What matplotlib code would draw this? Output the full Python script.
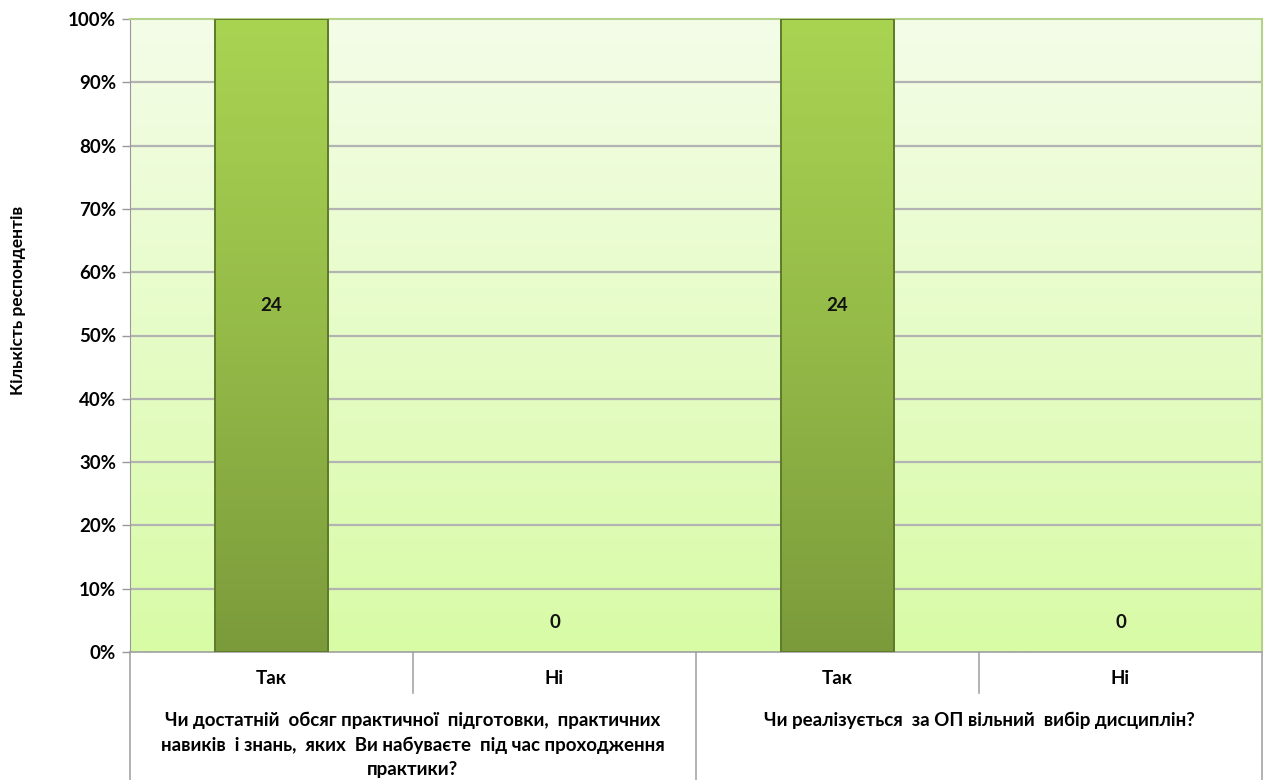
import numpy as np
import matplotlib
matplotlib.use("Agg")
import matplotlib.pyplot as plt
from matplotlib.colors import LinearSegmentedColormap

plt.rcParams['font.family'] = ['Lato', 'DejaVu Sans']

# ---- data ----
answers = ["Так", "Ні", "Так", "Ні"]
counts = [24, 0, 24, 0]
questions = ["Чи достатній  обсяг практичної  підготовки,  практичних\nнавиків  і знань,  яких  Ви набуваєте  під час проходження\nпрактики?",
             "Чи реалізується  за ОП вільний  вибір дисциплін?"]
y_label = "Кількість респондентів"
yticks = list(range(0, 101, 10))

# 100% stacked (single series): share of category total
pct = [100.0 * c / c if c > 0 else 0.0 for c in counts]

FS = 13.5

fig = plt.figure(figsize=(12.64, 7.8), dpi=100)
ax = fig.add_axes([130/1264, 1-652/780, (1262-130)/1264, (652-19)/780])

n = len(answers)
x = np.arange(n)
ax.set_xlim(-0.5, n - 0.5)
ax.set_ylim(0, 100)

# background gradient
bg = LinearSegmentedColormap.from_list("bg", ["#d8fba6", "#f4fde8"])
grad = np.linspace(0, 1, 256).reshape(-1, 1)
ax.imshow(grad, cmap=bg, aspect='auto', extent=(-0.5, n - 0.5, 0, 100),
          origin='lower', zorder=0)

# grid
for t in yticks[1:-1]:
    ax.axhline(t, color="#b3b3b3", lw=1.6, zorder=1)

# bars with gradient fill
barcm = LinearSegmentedColormap.from_list("bar", ["#7b9b3b", "#95ba48", "#a9d452"])
bars = ax.bar(x, pct, width=0.4, facecolor="none", edgecolor="#5e7a2a",
              lw=1.4, zorder=3)
for b in bars:
    h = b.get_height()
    if h <= 0:
        b.set_visible(False)
        continue
    im = ax.imshow(grad, cmap=barcm, aspect='auto',
                   extent=(b.get_x(), b.get_x() + b.get_width(), 0, h),
                   origin='lower', zorder=2)
    im.set_clip_path(b)

# value labels
for xi, c, p in zip(x, counts, pct):
    yy = 54.8 if p > 0 else 4.6
    ax.text(xi, yy, str(c), ha='center', va='center', fontsize=FS,
            fontweight='bold', color='#111111', zorder=4)

# axes styling
ax.set_xticks([])
ax.set_yticks(yticks)
ax.set_yticklabels([f"{t}%" for t in yticks], fontsize=FS, fontweight='bold')
ax.tick_params(axis='y', length=6, width=1, color="#999999", pad=4)
for s in ['top', 'right']:
    ax.spines[s].set_color("#b5d18a")
    ax.spines[s].set_linewidth(1.5)
ax.spines['left'].set_color("#999999")
ax.spines['bottom'].set_color("#a0a0a0")
ax.spines['bottom'].set_linewidth(1.2)
fig.text(18 / 1264, 1 - 300 / 780, y_label, rotation=90, ha='center',
         va='center', fontsize=FS - 1, fontweight='bold')

# multi-level category axis
tr = ax.get_xaxis_transform()
sep_kw = dict(color="#a6a6a6", lw=1.2, clip_on=False, transform=tr)
lvl1 = -41 / 633
full = -128 / 633
for i in range(n + 1):
    xb = i - 0.5
    bottom = full if i % 2 == 0 else lvl1
    ax.plot([xb, xb], [0, bottom], **sep_kw)
for xi, a in zip(x, answers):
    ax.text(xi, -27 / 633, a, transform=tr, ha='center', va='center',
            fontsize=FS, fontweight='bold', clip_on=False)
for gi, q in enumerate(questions):
    xc = 2 * gi + 0.5
    ax.text(xc, -60 / 633, q, transform=tr, ha='center', va='top',
            fontsize=FS, fontweight='bold', linespacing=1.5, clip_on=False)

fig.savefig("out.png", dpi=100)
